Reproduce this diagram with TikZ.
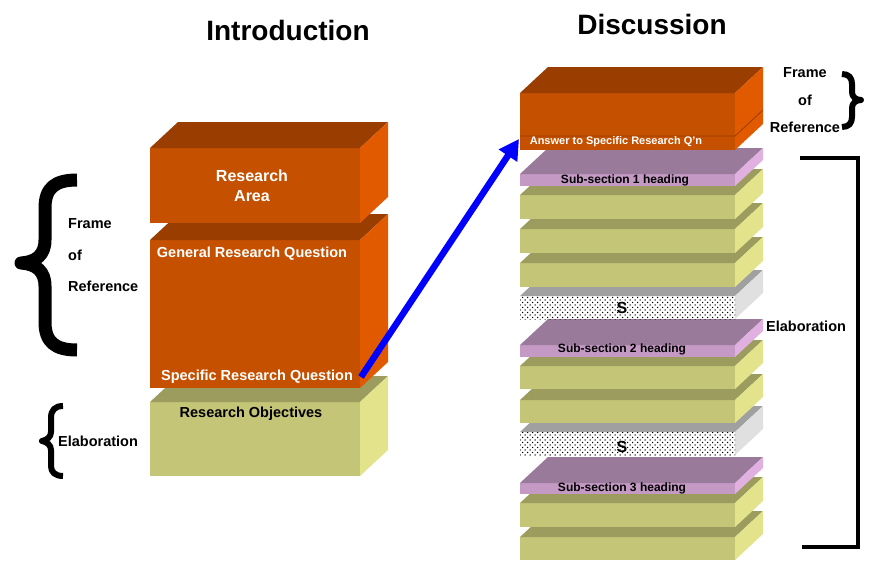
\documentclass[tikz,border=0pt]{standalone}
\usepackage{fontspec}
\setmainfont{Liberation Sans}
\usetikzlibrary{patterns,arrows.meta}
\definecolor{orangeA}{HTML}{C45000}\definecolor{orangeB}{HTML}{9A3D00}\definecolor{orangeC}{HTML}{E25A00}
\definecolor{gelbA}{HTML}{C5C578}\definecolor{gelbB}{HTML}{9C9C5E}\definecolor{gelbC}{HTML}{E3E38C}
\definecolor{lilaA}{HTML}{C49AC4}\definecolor{lilaB}{HTML}{9A7A9A}\definecolor{lilaC}{HTML}{E0B0E0}
\definecolor{grauA}{HTML}{FFFFFF}\definecolor{grauB}{HTML}{A0A0A0}\definecolor{grauC}{HTML}{E0E0E0}
% Punktraster
\pgfdeclarepatternformonly{punkte}{\pgfqpoint{-1pt}{-1pt}}{\pgfqpoint{4pt}{4pt}}{\pgfqpoint{5pt}{5pt}}{%
  \pgfpathcircle{\pgfqpoint{0pt}{0pt}}{0.75pt}\pgfpathcircle{\pgfqpoint{2.5pt}{2.5pt}}{0.75pt}\pgfusepath{fill}}
% Quader: x links, x rechts, y oben, y unten, Farbe
\newcommand{\quader}[5]{%
  \fill[fill=#5A] (#1,#3) rectangle (#2,#4);
  \fill[fill=#5B] (#1,#3) -- ++(28,-26) -- (#2+28,#3-26) -- (#2,#3) -- cycle;
  \fill[fill=#5C] (#2,#3) -- ++(28,-26) -- (#2+28,#4-26) -- (#2,#4) -- cycle;}
\tikzset{
  titel/.style={font=\bfseries\fontsize{28}{30}\selectfont},
  weiss/.style={text=white,inner sep=0,font=\bfseries\fontsize{14.5}{20}\selectfont,align=center},
  schwarz/.style={inner sep=0,font=\bfseries\fontsize{14.5}{17}\selectfont},
  klein/.style={inner sep=0,font=\bfseries\fontsize{#1}{#1}\selectfont},
  rand/.style={inner sep=0,font=\bfseries\fontsize{14.5}{17}\selectfont},
  klammer/.style={line width=#1,line cap=butt,line join=round},
  pfeil/.style={blue,line width=6.5pt,-{Triangle[length=20pt,width=21pt]}}}
\begin{document}
\begin{tikzpicture}[x=1pt,y=-1pt]
\useasboundingbox (0,0) rectangle (879,565);
% Ueberschriften
\node[titel] (intro) at (288,30) {Introduction};
\node[titel] (disk) at (652,24) {Discussion};
% Einleitung links
\quader{150}{360}{402}{476}{gelb}
\quader{150}{360}{240}{388}{orange}
\quader{150}{360}{148}{223}{orange}
\node[weiss,font=\bfseries\fontsize{16}{20}\selectfont] (area) at (252,186) {Research\\Area};
\node[weiss] (grq) at (252,254) {General Research Question};
\node[weiss] (srq) at (257,377) {Specific Research Question};
\node[schwarz] (ziele) at (251,414) {Research Objectives};
% Diskussion rechts
\foreach \ot/\ub/\art in {537/560/gelb,503/527/gelb,483/494/lila,432/455/grau,400/423/gelb,366/389/gelb,345/357/lila,296/319/grau,263/287/gelb,229/253/gelb,195/219/gelb,174/186/lila,136/150/orange,93/136/orange}
  {\quader{520}{735}{\ot}{\ub}{\art}}
\foreach \ot/\ub in {296/319,432/455}{\fill[pattern=punkte] (520,\ot) rectangle (735,\ub);}
\draw[orangeB,line width=0.8pt] (520,136) -- (735,136) -- ++(28,-26);
\node[klein=11,text=white] (antwort) at (616,142) {Answer to Specific Research Q'n};
\node[klein=12] (sub1) at (625,180) {Sub-section 1 heading};
\node[klein=16] (s1) at (622,308) {S};
\node[klein=12] (sub2) at (622,349) {Sub-section 2 heading};
\node[klein=16] (s2) at (622,447) {S};
\node[klein=12] (sub3) at (622,488) {Sub-section 3 heading};
% Pfeil
\coordinate (start) at (361,377); \coordinate (ziel) at (519,139);
\draw[pfeil] (start) -- (ziel);
% Klammern und Beschriftung links
\draw[klammer=13pt] (77,180) .. controls (55,180) and (45,188) .. (45,208) -- (45,240) .. controls (45,255) and (36,262) .. (21,263) .. controls (36,264) and (45,271) .. (45,286) -- (45,322) .. controls (45,342) and (55,350) .. (77,350);
\draw[klammer=6pt] (63,406) .. controls (55,406) and (51,410) .. (51,418) -- (51,432) .. controls (51,437) and (47,440) .. (42,441) .. controls (47,442) and (51,445) .. (51,450) -- (51,466) .. controls (51,472) and (55,476) .. (63,476);
\node[rand,anchor=west] (fr1) at (68,224) {Frame};
\node[rand,anchor=west] (fr2) at (68,255) {of};
\node[rand,anchor=west] (fr3) at (68,286) {Reference};
\node[rand,anchor=west] (elab1) at (58,441) {Elaboration};
% Klammern und Beschriftung rechts
\draw[klammer=6pt] (842,74) .. controls (849,74) and (852,78) .. (852,84) -- (852,92) .. controls (852,97) and (856,100) .. (861,100) .. controls (856,100) and (852,103) .. (852,108) -- (852,117) .. controls (852,123) and (849,127) .. (842,127);
\node[rand] (fr4) at (805,73) {Frame};
\node[rand] (fr5) at (805,100) {of};
\node[rand] (fr6) at (805,127) {Reference};
\draw[klammer=4pt,line join=miter] (800,158) -- (858,158) -- (858,547) -- (802,547);
\node[rand,anchor=west] (elab2) at (766,326) {Elaboration};
\end{tikzpicture}
\end{document}
